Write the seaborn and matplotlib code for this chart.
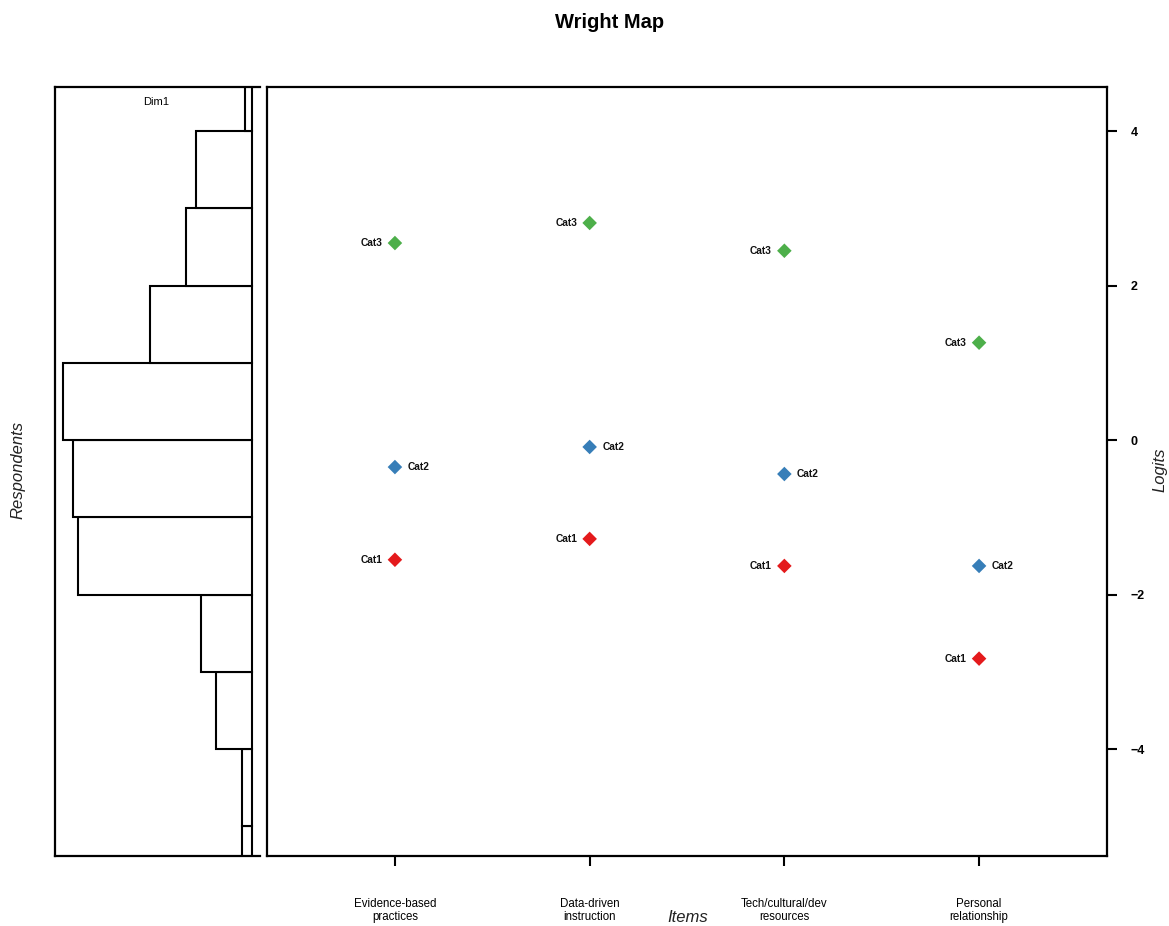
import numpy as np
import pandas as pd
import seaborn as sns
import matplotlib.pyplot as plt

#_____ data
items = ['Evidence-based\npractices', 'Data-driven\ninstruction',
         'Tech/cultural/dev\nresources', 'Personal\nrelationship']
cat1 = [-1.55, -1.28, -1.63, -2.83]
cat2 = [-0.35, -0.09, -0.44, -1.63]
cat3 = [2.55, 2.81, 2.45, 1.26]

# respondent histogram (bins of 1 logit, bottom to top)
bin_edges = [-6, -5, -4, -3, -2, -1, 0, 1, 2, 3, 4, 5]
resp_counts = [2, 2, 7, 10, 34, 35, 37, 20, 13, 11, 1.5]

cat_names = ['Cat1', 'Cat2', 'Cat3']
cat_colors = {'Cat1': '#E41A1C', 'Cat2': '#377EB8', 'Cat3': '#4DAF4A'}

#_____ long table for seaborn
rows = []
for i, it in enumerate(items):
    for c, vals in zip(cat_names, [cat1, cat2, cat3]):
        rows.append({'pos': i + 1, 'item': it, 'cat': c, 'logit': vals[i]})
df = pd.DataFrame(rows)

sns.set_style('white')
plt.rcParams['font.family'] = ['Liberation Sans', 'DejaVu Sans']
plt.rcParams['text.color'] = 'black'
plt.rcParams['xtick.color'] = 'black'
plt.rcParams['ytick.color'] = 'black'
plt.rcParams['axes.labelcolor'] = 'black'

ylim = (-5.385, 4.57)
fig = plt.figure(figsize=(11.69, 9.26), dpi=100)
ax_h = fig.add_axes([55/1169, 70/926, 205/1169, 769/926])
ax = fig.add_axes([267/1169, 70/926, 840/1169, 769/926])

#_____ respondents panel
centers = np.array(bin_edges[:-1]) + 0.5
sns.histplot(y=centers, weights=resp_counts, bins=bin_edges, ax=ax_h,
             color='white', edgecolor='black', linewidth=1.5, alpha=1)
ax_h.set_xlim(1.04 * max(resp_counts), -0.04 * max(resp_counts))
ax_h.set_ylim(ylim)
ax_h.set_xticks([])
ax_h.set_yticks([])
ax_h.set_xlabel('')
ax_h.set_ylabel('')
ax_h.spines['right'].set_visible(False)
for s in ['left', 'top', 'bottom']:
    ax_h.spines[s].set_linewidth(1.6)
    ax_h.spines[s].set_color('black')
ax_h.text(0.493, 0.98, 'Dim1', transform=ax_h.transAxes,
          ha='center', va='center', fontsize=8)

#_____ item panel
sns.scatterplot(data=df, x='pos', y='logit', hue='cat', palette=cat_colors,
                marker='D', s=55, edgecolor='none', legend=False, ax=ax)
for _, r in df.iterrows():
    if r['cat'] == 'Cat2':
        off, ha = 9, 'left'
    else:
        off, ha = -9, 'right'
    ax.annotate(r['cat'], (r['pos'], r['logit']), xytext=(off, 0),
                textcoords='offset points', ha=ha, va='center',
                fontsize=7.3, fontweight='bold', color='#111111')

ax.set_xlim(0.343, 4.657)
ax.set_ylim(ylim)
ax.set_xticks(range(1, len(items) + 1))
ax.set_xticklabels(items, fontsize=8.3, linespacing=1.2,
                   family=['Liberation Sans Narrow', 'Liberation Sans', 'DejaVu Sans'])
ax.set_yticks([-4, -2, 0, 2, 4])
ax.yaxis.tick_right()
ax.tick_params(axis='y', which='both', right=True, left=False, labelright=True,
               labelleft=False, length=7, width=1.5, pad=10, labelsize=9)
ax.tick_params(axis='x', bottom=True, length=7, width=1.5, pad=23)
for lbl in ax.get_yticklabels():
    lbl.set_fontweight('bold')
ax.set_xlabel('')
ax.set_ylabel('')
for s in ax.spines.values():
    s.set_linewidth(1.6)
    s.set_color('black')

#_____ titles and axis labels
fig.text(610/1169, 1 - 23/926, 'Wright Map', ha='center', va='center',
         fontsize=14.5, fontweight='bold')
fig.text(18/1169, 1 - 470/926, 'Respondents', rotation=90, ha='center',
         va='center', fontsize=12, style='italic', color='#222222')
fig.text(1160/1169, 1 - 470/926, 'Logits', rotation=90, ha='center',
         va='center', fontsize=12, style='italic', color='#222222')
fig.text(688/1169, 1 - 918/926, 'Items', ha='center', va='center',
         fontsize=12, style='italic', color='#222222')

fig.savefig('out.png', dpi=100, facecolor='white')
